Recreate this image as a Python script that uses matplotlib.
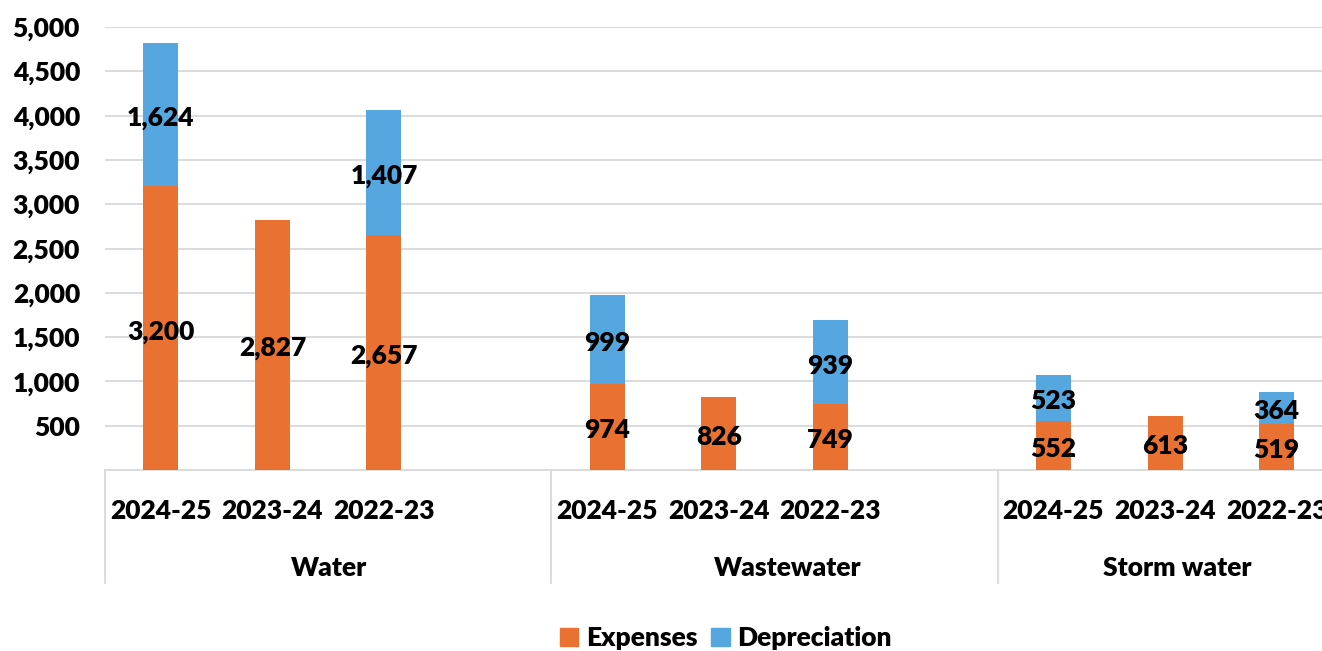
#!/usr/bin/env python3
"""
Expenses and depreciation by service and year - stacked bar chart
with a two-level category axis (year within service).
"""

import matplotlib
matplotlib.use('Agg')
import matplotlib.pyplot as plt
import matplotlib.transforms as mtransforms
from matplotlib.patches import Patch

# Data ($'000)
services = ['Water', 'Wastewater', 'Storm water']
years = ['2024-25', '2023-24', '2022-23']
expenses = [
    [3200, 2827, 2657],   # Water
    [974, 826, 749],      # Wastewater
    [552, 613, 519],      # Storm water
]
depreciation = [
    [1624, 0, 1407],
    [999, 0, 939],
    [523, 0, 364],
]
y_ticks = [500, 1000, 1500, 2000, 2500, 3000, 3500, 4000, 4500, 5000]

ORANGE = '#E97132'
BLUE = '#56A6DF'
GRID = '#D9D9D9'
FONT = ['Lato', 'DejaVu Sans']
FS = 19
WEIGHT = 'heavy'

plt.rcParams['font.family'] = FONT
plt.rcParams['font.weight'] = WEIGHT

SLOTS = 4          # three years plus one empty slot per service
BAR_W = 0.314
# centre of each service label, in slot units
service_label_x = [2.01, 6.12, 9.61]


def bar_label(ax, x, y, value):
    ax.annotate(f'{value:,}', xy=(x, y), xytext=(0, -2.5), textcoords='offset points',
                ha='center', va='center', fontsize=FS, fontweight=WEIGHT, zorder=4)


fig = plt.figure(figsize=(13.22, 6.51), dpi=100)
# plot area runs past the right edge of the figure
ax = fig.add_axes([105 / 1322, 181 / 651, 1339 / 1322, 443 / 651])

for g, service in enumerate(services):
    for i, year in enumerate(years):
        x = g * SLOTS + i + 0.5
        e = expenses[g][i]
        d = depreciation[g][i]
        ax.bar(x, e, width=BAR_W, color=ORANGE, zorder=3)
        bar_label(ax, x, e / 2, e)
        if d:
            ax.bar(x, d, width=BAR_W, bottom=e, color=BLUE, zorder=3)
            bar_label(ax, x, e + d / 2, d)

ax.set_xlim(0, SLOTS * len(services))
ax.set_ylim(0, 5000)
ax.set_yticks(y_ticks)
ax.set_yticklabels([f'{v:,}' for v in y_ticks], fontsize=FS, fontweight=WEIGHT)
ax.tick_params(axis='y', length=0, pad=18)
ax.set_xticks([])

ax.grid(axis='y', color=GRID, linewidth=1.3, zorder=0)
for side in ['top', 'right', 'left']:
    ax.spines[side].set_visible(False)
ax.spines['bottom'].set_color(GRID)
ax.spines['bottom'].set_linewidth(1.3)

# two-level category labels below the axis
trans = mtransforms.blended_transform_factory(ax.transData, ax.transAxes)
h = 443.0
for g, service in enumerate(services):
    for i, year in enumerate(years):
        ax.text(g * SLOTS + i + 0.5, -41 / h, year, transform=trans,
                ha='center', va='center', fontsize=FS, fontweight=WEIGHT)
    ax.text(service_label_x[g], -98 / h, service, transform=trans,
            ha='center', va='center', fontsize=FS, fontweight=WEIGHT)

for xd in range(0, SLOTS * len(services) + 1, SLOTS):
    ax.plot([xd, xd], [0, -113 / h], transform=trans, color=GRID,
            linewidth=1.3, clip_on=False)

handles = [Patch(color=ORANGE, label='Expenses'),
           Patch(color=BLUE, label='Depreciation')]
fig.legend(handles=handles, loc='center', bbox_to_anchor=(726 / 1322, 1 - 638 / 651),
           ncol=2, frameon=False, handlelength=0.7, handleheight=0.7,
           handletextpad=0.3, columnspacing=0.5,
           prop={'family': FONT, 'weight': WEIGHT, 'size': FS})

fig.savefig('out.png', dpi=100)
plt.close(fig)
